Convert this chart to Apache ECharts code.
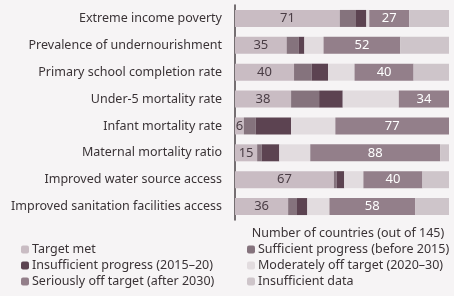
<!DOCTYPE html>
<html>
<head>
<meta charset="utf-8">
<script src="https://cdn.jsdelivr.net/npm/echarts@6/dist/echarts.min.js"></script>
<style>
  html, body { margin: 0; padding: 0; background: #f6f4f5; }
  #chart { width: 454px; height: 296px; }
</style>
</head>
<body>
<div id="chart"></div>
<script>
// MDG indicators, number of countries per progress group
const categories = [
  'Extreme income poverty',
  'Prevalence of undernourishment',
  'Primary school completion rate',
  'Under-5 mortality rate',
  'Infant mortality rate',
  'Maternal mortality ratio',
  'Improved water source access',
  'Improved sanitation facilities access'
]
const targetMet = [71, 35, 40, 38, 6, 15, 67, 36]
const sufficient = [11, 8, 12, 19, 8, 3, 2, 6]
const insufficient = [7, 4, 11, 16, 24, 12, 5, 7]
const moderately = [2, 13, 18, 38, 30, 21, 13, 15]
const seriously = [27, 52, 40, 34, 77, 88, 40, 58]
const noData = [27, 33, 24, 0, 0, 6, 18, 23]
const total = 145

const chart = echarts.init(document.getElementById('chart'))

const font = 'Noto Sans'
const textColor = '#3a3336'

function bar (name, data, color, label) {
  return {
    name: name,
    type: 'bar',
    stack: 'all',
    data: data,
    barWidth: 17,
    itemStyle: { color: color },
    label: label || { show: false }
  }
}

const legendText = { fontFamily: font, fontSize: 12.5, color: textColor, padding: [0, 0, 0, -2] }

const option = {
  backgroundColor: '#f6f4f5',
  animation: false,
  textStyle: { fontFamily: font },
  grid: { left: 235, right: 5, top: 5, bottom: 76 },
  legend: [
    {
      orient: 'vertical',
      left: 16,
      top: 238,
      itemWidth: 8,
      itemHeight: 8,
      itemGap: 3,
      textStyle: legendText,
      data: ['Target met', 'Insufficient progress (2015–20)', 'Seriously off target (after 2030)']
    },
    {
      orient: 'vertical',
      left: 242,
      top: 238,
      itemWidth: 8,
      itemHeight: 8,
      itemGap: 3,
      textStyle: legendText,
      data: ['Sufficient progress (before 2015)', 'Moderately off target (2020–30)', 'Insufficient data']
    }
  ],
  xAxis: {
    type: 'value',
    min: 0,
    max: total,
    name: 'Number of countries (out of 145)',
    nameLocation: 'middle',
    nameGap: 7,
    nameTextStyle: { fontFamily: font, fontSize: 12.5, color: textColor, padding: [0, 0, 0, 12] },
    axisLine: { show: false },
    axisTick: { show: false },
    axisLabel: { show: false },
    splitLine: { show: false }
  },
  yAxis: {
    type: 'category',
    inverse: true,
    data: categories,
    axisLine: { show: true, lineStyle: { color: '#4a4346', width: 1.5 } },
    axisTick: { show: false },
    axisLabel: { fontFamily: font, fontSize: 12.5, color: textColor, margin: 13 }
  },
  series: [
    bar('Target met', targetMet, '#c9bcc3', {
      show: true, position: 'inside', fontSize: 13, color: '#4a3d45', fontFamily: font
    }),
    bar('Sufficient progress (before 2015)', sufficient, '#85737d'),
    bar('Insufficient progress (2015–20)', insufficient, '#5c4351'),
    bar('Moderately off target (2020–30)', moderately, '#e2dcdf'),
    bar('Seriously off target (after 2030)', seriously, '#937f8a', {
      show: true, position: 'inside', fontSize: 13, color: '#ffffff', fontFamily: font
    }),
    bar('Insufficient data', noData, '#cec5ca')
  ]
}

chart.setOption(option)
</script>
</body>
</html>
